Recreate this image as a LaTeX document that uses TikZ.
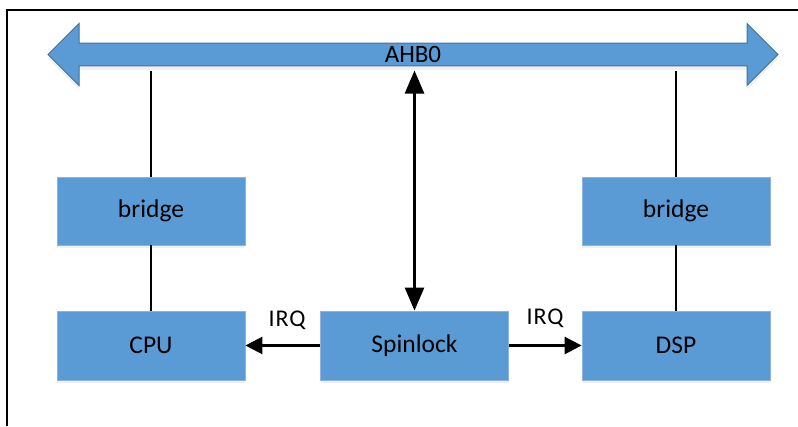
\documentclass[tikz,border=0pt]{standalone}
\usepackage{fontspec}
\setmainfont{Carlito}
\usetikzlibrary{arrows.meta,shapes.arrows,shadows}
\definecolor{boxblue}{HTML}{5B9BD5}
\definecolor{boxedge}{HTML}{8FB3DA}
\definecolor{busedge}{HTML}{41719C}
\begin{document}
\begin{tikzpicture}[x=1pt,y=-1pt,
  blockbox/.style={draw=boxedge, line width=0.8pt, fill=boxblue, minimum width=188pt, minimum height=68pt, inner sep=0pt, font=\fontsize{25.5}{28}\selectfont,
    drop shadow={shadow xshift=0pt, shadow yshift=-3pt, opacity=0.12}},
  conn/.style={line width=2.6pt, black},
  irqlab/.style={font=\fontsize{24}{28}\selectfont\addfontfeature{LetterSpace=4}, inner sep=0pt},
  smalltip/.style={-{Triangle[length=17pt,width=17pt]}}
]
\useasboundingbox (0,0) rectangle (798,426);
% frame (top and left edges)
\draw[line width=1.3pt] (7,426) -- (7,10) -- (798,10);
% bus
\node[double arrow, draw=busedge, line width=1pt, fill=boxblue,
  minimum height=730pt, minimum width=62pt, double arrow head extend=15pt,
  inner sep=0pt, font=\fontsize{25}{28}\selectfont,
  drop shadow={shadow xshift=0pt, shadow yshift=-4pt, opacity=0.12}] (bus) at (413,54.5) {AHB0};
\coordinate (busL) at (151,70.5);
\coordinate (busM) at (414.5,70.5);
\coordinate (busR) at (676,70.5);
% blocks
\node[blockbox] (bridgeL) at (151,211) {bridge};
\node[blockbox] (bridgeR) at (676,211) {bridge};
\node[blockbox, minimum height=69pt] (cpu) at (151,345.5) {CPU};
\node[blockbox, minimum height=69pt] (spin) at (414.5,345.5) {Spinlock};
\node[blockbox, minimum height=69pt] (dsp) at (676,345.5) {DSP};
% connectors
\draw[conn] (busL) -- (bridgeL.north);
\draw[conn] (bridgeL.south) -- (cpu.north);
\draw[conn] (busR) -- (bridgeR.north);
\draw[conn] (bridgeR.south) -- (dsp.north);
\draw[conn, {Triangle[length=23pt,width=19pt]}-{Triangle[length=23pt,width=19pt]}] (busM) -- (spin.north);
\draw[conn, smalltip] (spin.west) -- (cpu.east);
\draw[conn, smalltip] (spin.east) -- (dsp.west);
% labels
\node[irqlab] (irqL) at (287,320) {IRQ};
\node[irqlab] (irqR) at (545,318) {IRQ};
\end{tikzpicture}
\end{document}
